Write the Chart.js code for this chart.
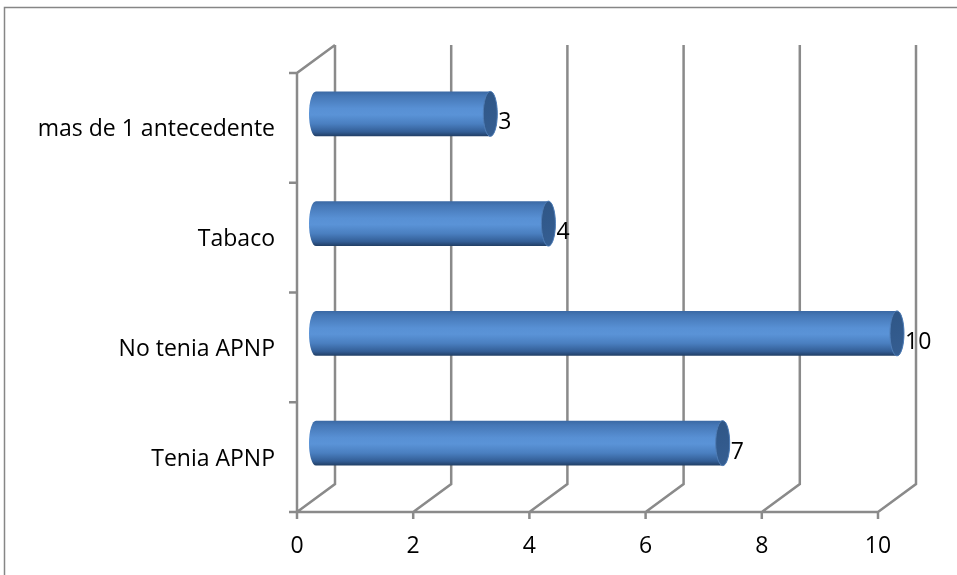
<!DOCTYPE html>
<html>
<head>
<meta charset="utf-8">
<script src="https://cdn.jsdelivr.net/npm/chart.js@4/dist/chart.umd.min.js"></script>
<style>
  html, body { margin: 0; padding: 0; background: #ffffff; }
  #wrap { width: 957px; height: 575px; position: relative; }
</style>
</head>
<body>
<div id="wrap"><canvas id="c" width="957" height="575"></canvas></div>
<script>
// Categories (top to bottom) and their counts
const categories = ['mas de 1 antecedente', 'Tabaco', 'No tenia APNP', 'Tenia APNP'];
const counts = [3, 4, 10, 7];
// Value axis
const axisMin = 0;
const axisMax = 10;
const axisStep = 2;

const FONT = '"Open Sans", Calibri, Lato, sans-serif';
const FONT_SIZE = 23;
const GRID = '#8a8a8a';
// Depth of the 3D box (back wall offset) and of the bars (half way in)
const DEPTH_X = 38, DEPTH_Y = -28;
const BAR_X = DEPTH_X / 2, BAR_Y = DEPTH_Y / 2;

// Outer frame of the chart object
const framePlugin = {
  id: 'frame',
  beforeDraw(chart) {
    const ctx = chart.ctx;
    ctx.save();
    ctx.strokeStyle = '#868686';
    ctx.lineWidth = 1.5;
    ctx.strokeRect(4.5, 7.5, 1200, 1200);
    ctx.restore();
  }
};

// Walls, floor and axis ticks of the 3D box
const boxPlugin = {
  id: 'box3d',
  beforeDatasetsDraw(chart) {
    const ctx = chart.ctx;
    const xs = chart.scales.x;
    const area = chart.chartArea;
    const left = area.left, right = area.right, top = area.top, bottom = area.bottom;
    ctx.save();
    ctx.strokeStyle = GRID;
    ctx.lineWidth = 2.5;
    ctx.lineCap = 'butt';
    ctx.beginPath();
    // back wall verticals + floor diagonals
    for (let v = axisMin; v <= axisMax; v += axisStep) {
      const px = xs.getPixelForValue(v);
      ctx.moveTo(px, bottom);
      ctx.lineTo(px + DEPTH_X, bottom + DEPTH_Y);
      ctx.lineTo(px + DEPTH_X, top + DEPTH_Y);
      // tick below the floor
      ctx.moveTo(px, bottom);
      ctx.lineTo(px, bottom + 7);
    }
    // front floor edge
    ctx.moveTo(left, bottom);
    ctx.lineTo(right, bottom);
    // side wall: front edge and top edge
    ctx.moveTo(left, bottom);
    ctx.lineTo(left, top);
    ctx.lineTo(left + DEPTH_X, top + DEPTH_Y);
    // category boundary ticks on the side wall
    const n = categories.length;
    const step = (bottom - top) / n;
    for (let i = 0; i <= n; i++) {
      const py = top + i * step;
      ctx.moveTo(left - 8, py);
      ctx.lineTo(left, py);
    }
    ctx.stroke();
    ctx.restore();
  }
};

function cylinder(ctx, x0, x1, cy, h, rx) {
  const top = cy - h / 2, bot = cy + h / 2, ry = h / 2;
  const g = ctx.createLinearGradient(0, top, 0, bot);
  g.addColorStop(0.00, '#3a68a3');
  g.addColorStop(0.10, '#4577b6');
  g.addColorStop(0.38, '#5890d4');
  g.addColorStop(0.52, '#5a93d7');
  g.addColorStop(0.72, '#4a7fc0');
  g.addColorStop(0.90, '#335e96');
  g.addColorStop(1.00, '#203d63');
  ctx.beginPath();
  ctx.moveTo(x1, top);
  ctx.lineTo(x0, top);
  ctx.ellipse(x0, cy, rx, ry, 0, -Math.PI / 2, Math.PI / 2, true);
  ctx.lineTo(x1, bot);
  ctx.ellipse(x1, cy, rx, ry, 0, Math.PI / 2, -Math.PI / 2, true);
  ctx.closePath();
  ctx.fillStyle = g;
  ctx.fill();
  // end cap
  const cg = ctx.createLinearGradient(x1 - rx, top, x1 + rx, bot);
  cg.addColorStop(0, '#2f5686');
  cg.addColorStop(1, '#355e92');
  ctx.beginPath();
  ctx.ellipse(x1, cy, rx, ry, 0, 0, Math.PI * 2);
  ctx.fillStyle = cg;
  ctx.fill();
  ctx.lineWidth = 1;
  ctx.strokeStyle = '#4f7db6';
  ctx.stroke();
}

// Cylinders and value labels, drawn from the bar elements' own geometry
const cylinderPlugin = {
  id: 'cylinders',
  afterDatasetsDraw(chart) {
    const ctx = chart.ctx;
    const meta = chart.getDatasetMeta(0);
    const rx = 7;
    ctx.save();
    meta.data.forEach((el, i) => {
      const p = el.getProps(['x', 'y', 'base', 'height'], true);
      const x0 = p.base + BAR_X;
      const x1 = p.x + BAR_X;
      const cy = p.y + BAR_Y;
      cylinder(ctx, x0, x1, cy, p.height, rx);
      ctx.fillStyle = '#000000';
      ctx.font = FONT_SIZE + 'px ' + FONT;
      ctx.textAlign = 'left';
      ctx.textBaseline = 'middle';
      ctx.fillText(String(counts[i]), x1 + rx + 1, p.y + BAR_Y / 2 + 2);
    });
    ctx.restore();
  }
};

new Chart(document.getElementById('c'), {
  type: 'bar',
  data: {
    labels: categories,
    datasets: [{
      data: counts,
      backgroundColor: 'rgba(0,0,0,0)',
      borderWidth: 0,
      categoryPercentage: 1,
      barPercentage: 0.41
    }]
  },
  options: {
    indexAxis: 'y',
    responsive: false,
    animation: false,
    devicePixelRatio: 1,
    layout: { padding: { left: 0, top: 73, right: 79, bottom: 0 } },
    plugins: { legend: { display: false }, tooltip: { enabled: false } },
    scales: {
      x: {
        min: axisMin, max: axisMax,
        grid: { display: false, drawTicks: false },
        border: { display: false },
        ticks: { stepSize: axisStep, color: '#000000', padding: 21, font: { family: FONT, size: FONT_SIZE } },
        afterFit(scale) { scale.height = 63; }
      },
      y: {
        grid: { display: false, drawTicks: false },
        border: { display: false },
        ticks: { color: '#000000', padding: 22, labelOffset: 2, font: { family: FONT, size: FONT_SIZE } },
        afterFit(scale) { scale.width = 297; }
      }
    }
  },
  plugins: [framePlugin, boxPlugin, cylinderPlugin]
});
</script>
</body>
</html>
